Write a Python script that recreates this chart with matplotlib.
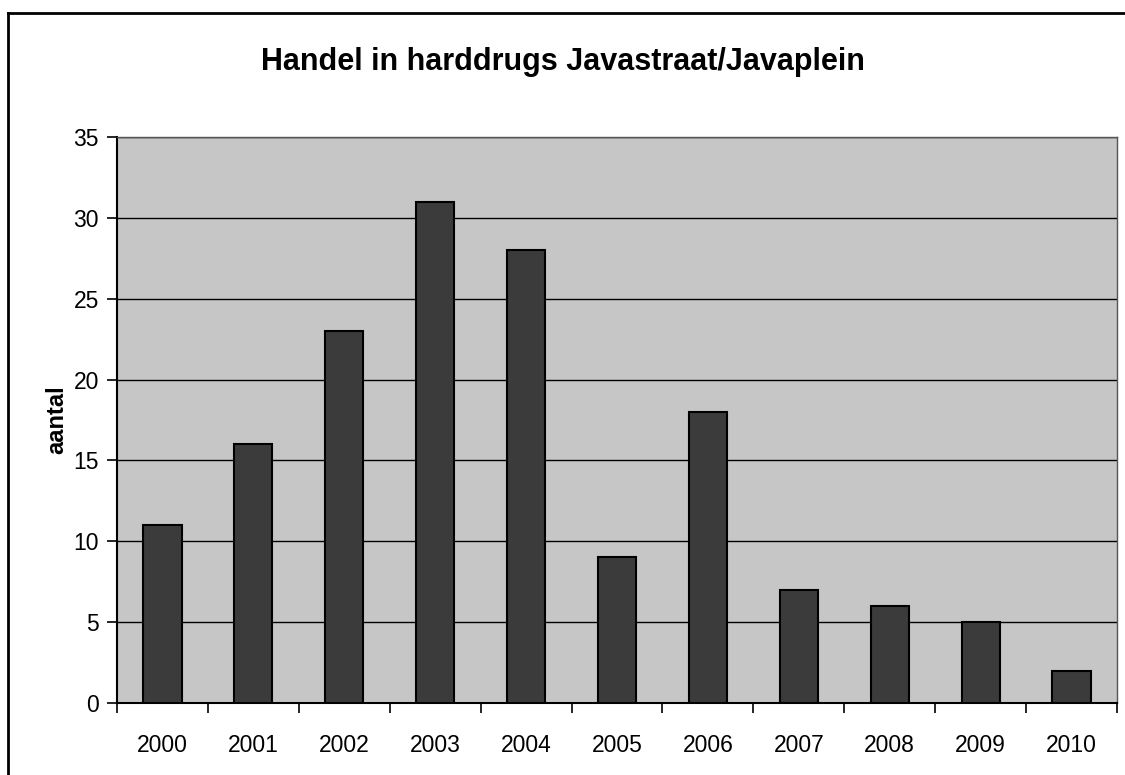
import matplotlib
matplotlib.use("Agg")
import matplotlib.pyplot as plt
from matplotlib.lines import Line2D

years = ["2000", "2001", "2002", "2003", "2004", "2005",
         "2006", "2007", "2008", "2009", "2010"]
counts = [11, 16, 23, 31, 28, 9, 18, 7, 6, 5, 2]

plt.rcParams["font.family"] = ["Liberation Sans", "DejaVu Sans"]

fig = plt.figure(figsize=(11.25, 7.75), dpi=100)
ax = fig.add_axes([117 / 1125, 1 - 703 / 775, 1000 / 1125, 566 / 775])

ax.set_facecolor("#c6c6c6")
xs = range(len(years))
ax.bar(xs, counts, width=0.42, color="#3b3b3b", edgecolor="black",
       linewidth=1.5, zorder=3)

ax.set_xlim(-0.5, len(years) - 0.5)
ax.set_ylim(0, 35)
ax.set_yticks(range(0, 36, 5))
ax.yaxis.grid(True, color="black", linewidth=1.0, zorder=1)

# ticks between categories, labels at centres
ax.set_xticks([i - 0.5 for i in range(len(years) + 1)])
ax.set_xticklabels([])
ax.set_xticks(list(xs), minor=True)
ax.set_xticklabels(years, minor=True)
ax.tick_params(axis="x", which="major", direction="out", length=7,
               width=1.2, color="black")
ax.tick_params(axis="x", which="minor", length=0, pad=22, labelsize=16.5)
ax.tick_params(axis="y", direction="out", length=7, width=1.2,
               labelsize=16.5, pad=6)

for side in ["top", "right"]:
    ax.spines[side].set_color("#555555")
    ax.spines[side].set_linewidth(1.0)
for side in ["left", "bottom"]:
    ax.spines[side].set_linewidth(1.5)

ax.set_ylabel("aantal", fontsize=17, fontweight="bold", labelpad=4)
fig.text(0.5, 1 - 62 / 775,
         "Handel in harddrugs Javastraat/Javaplein",
         ha="center", va="center", fontsize=22, fontweight="bold")

# outer chart frame (only left and top edges visible in the scan)
fig.add_artist(Line2D([8 / 1125, 8 / 1125], [0, 1 - 13 / 775],
                      transform=fig.transFigure, color="black", linewidth=2))
fig.add_artist(Line2D([8 / 1125, 1], [1 - 13 / 775, 1 - 13 / 775],
                      transform=fig.transFigure, color="black", linewidth=2))

fig.savefig("out.png", dpi=100)
